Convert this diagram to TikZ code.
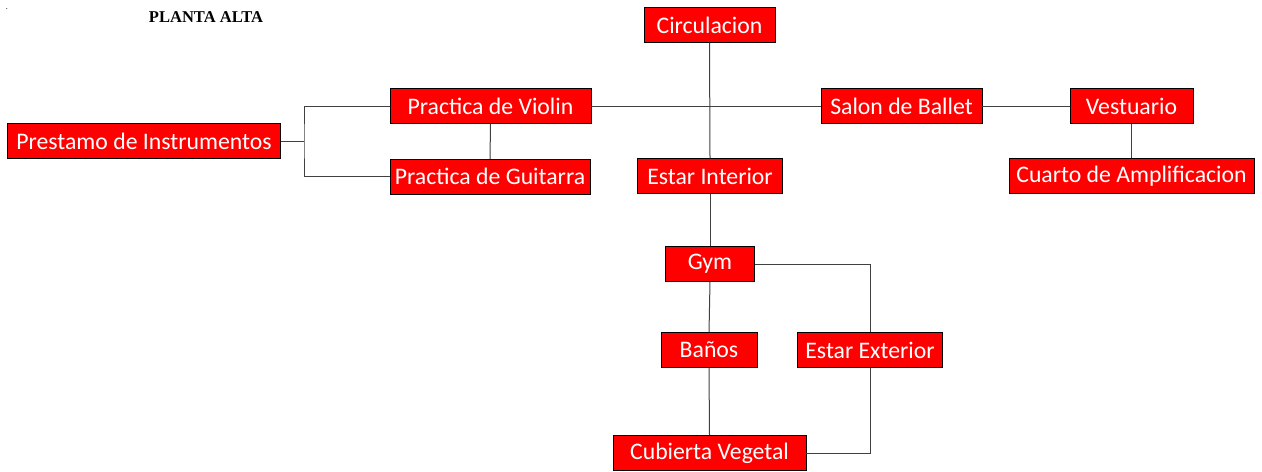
\documentclass[tikz,border=0pt]{standalone}
\usepackage{fontspec}
\setmainfont{Carlito}
\newfontfamily\titlefont{Liberation Serif}
\usepackage{tikz}
\usetikzlibrary{positioning,calc}

\tikzset{
  room/.style={draw=black, fill=red, text=white, inner sep=0pt, minimum height=26pt,
    font=\fontsize{17.8}{20}\selectfont},
  link/.style={draw=black!75, line width=0.75pt}
}

\begin{document}
\begin{tikzpicture}[x=0.75pt, y=-0.75pt]
\useasboundingbox (0,0) rectangle (1262,471);
\node[font=\titlefont\bfseries\fontsize{12.4}{14}\selectfont] (title) at (206,17) {PLANTA ALTA};
\node[font=\fontsize{6}{7}\selectfont, inner sep=0pt] (dot) at (7,9) {.};
% rooms
\node[room, minimum width=98pt] (circ) at (709.5,25) {Circulacion};
\node[room, minimum width=151pt] (violin) at (490.5,106) {Practica de Violin};
\node[room, minimum width=205pt] (prest) at (144,141) {Prestamo de Instrumentos};
\node[room, minimum width=150pt] (guit) at (490,176.5) {Practica de Guitarra};
\node[room, minimum width=109pt] (inter) at (710,176) {Estar Interior};
\node[room, minimum width=121pt] (ballet) at (901.5,106) {Salon de Ballet};
\node[room, minimum width=92pt] (vest) at (1131.5,106) {Vestuario};
\node[room, minimum width=184pt] (ampl) at (1131.5,176) {Cuarto de Amplificacion};
\node[room, minimum width=67pt] (gym) at (710,264) {Gym};
\node[room, minimum width=72pt] (banos) at (709,350) {Baños};
\node[room, minimum width=109pt] (exter) at (870,350) {Estar Exterior};
\node[room, minimum width=145pt] (cub) at (709.5,453) {Cubierta Vegetal};
% junction points
\coordinate (fork) at (304,141);
\coordinate (gymc) at (870,264);
\coordinate (cubc) at (870,453);
% connectors
\draw[link] (circ.south) -- (inter.north);
\draw[link] (violin.east) -- (ballet.west);
\draw[link] (ballet.east) -- (vest.west);
\draw[link] (vest.south) -- (ampl.north);
\draw[link] (violin.south) -- (guit.north);
\draw[link] (prest.east) -- (fork);
\draw[link] (violin.west) -| (fork) |- (guit.west);
\draw[link] (inter.south) -- (gym.north);
\draw[link] (gym.south) -- (banos.north);
\draw[link] (banos.south) -- (cub.north);
\draw[link] (gym.east) -- (gymc) -- (exter.north);
\draw[link] (exter.south) -- (cubc) -- (cub.east);
\end{tikzpicture}
\end{document}
